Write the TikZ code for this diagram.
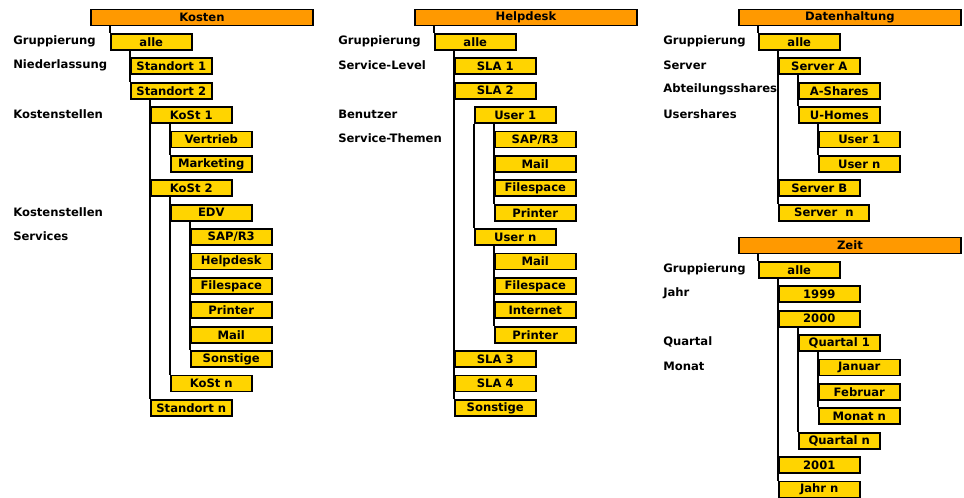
\documentclass[tikz,border=0pt]{standalone}
\usepackage{fontspec}
\setmainfont{DejaVu Sans}
\definecolor{cellfill}{HTML}{FFD400}
\definecolor{headfill}{HTML}{FF9900}
\tikzset{
  txt/.style={font=\fontsize{8.7}{10}\selectfont\bfseries},
  cell/.style={txt, draw=black, fill=cellfill, line width=1.4pt, anchor=north west,
    minimum width=60.5pt, minimum height=12pt, inner sep=0pt},
  widecell/.style={cell, minimum width=67.5pt},
  headcell/.style={cell, fill=headfill, minimum width=166.5pt},
  lbl/.style={txt, anchor=west, inner sep=0pt},
  link/.style={draw=black, line width=1.3pt}
}
% top edge of row #1 in the upper trees and in the time tree
\newcommand\ra[1]{33+24.4*#1}
\newcommand\rz[1]{261+24.4*#1}
\begin{document}
\begin{tikzpicture}[x=0.75pt,y=-0.75pt]
\useasboundingbox[fill=white] (0,0) rectangle (964,497);

% ---------------- Kosten ----------------
\node[headcell] (kh) at (90,{\ra{-1}}) {Kosten};
\node[cell] (kall) at (110,{\ra{0}}) {alle};
\node[cell] (kst1) at (130,{\ra{1}}) {Standort 1};
\node[cell] (kst2) at (130,{\ra{2}}) {Standort 2};
\node[cell] (kk1) at (150,{\ra{3}}) {KoSt 1};
\node[cell] (kvt) at (170,{\ra{4}}) {Vertrieb};
\node[cell] (kmk) at (170,{\ra{5}}) {Marketing};
\node[cell] (kk2) at (150,{\ra{6}}) {KoSt 2};
\node[cell] (kedv) at (170,{\ra{7}}) {EDV};
\node[cell] (ksap) at (190,{\ra{8}}) {SAP/R3};
\node[cell] (khd) at (190,{\ra{9}}) {Helpdesk};
\node[cell] (kfs) at (190,{\ra{10}}) {Filespace};
\node[cell] (kpr) at (190,{\ra{11}}) {Printer};
\node[cell] (kml) at (190,{\ra{12}}) {Mail};
\node[cell] (kso) at (190,{\ra{13}}) {Sonstige};
\node[cell] (kkn) at (170,{\ra{14}}) {KoSt n};
\node[cell] (kstn) at (150,{\ra{15}}) {Standort n};

\node[lbl] (kl1) at (13,{\ra{0}+8}) {Gruppierung};
\node[lbl] (kl2) at (13,{\ra{1}+8}) {Niederlassung};
\node[lbl] (kl3) at (13,{\ra{3}+8}) {Kostenstellen};
\node[lbl] (kl4) at (13,{\ra{7}+8}) {Kostenstellen};
\node[lbl] (kl5) at (13,{\ra{8}+8}) {Services};

\draw[link] (kh.south -| kall.west) -- (kall.north west);
\draw[link] (kall.south -| kst1.west) -- (kst2.north west);
\draw[link] (kst2.south -| kk1.west) -- (kstn.north west);
\draw[link] (kk1.south -| kvt.west) -- (kmk.north west);
\draw[link] (kk2.south -| kedv.west) -- (kkn.north west);
\draw[link] (kedv.south -| ksap.west) -- (kso.north west);

% ---------------- Helpdesk ----------------
\node[headcell] (hh) at (414,{\ra{-1}}) {Helpdesk};
\node[cell] (hall) at (434,{\ra{0}}) {alle};
\node[cell] (hs1) at (454,{\ra{1}}) {SLA 1};
\node[cell] (hs2) at (454,{\ra{2}}) {SLA 2};
\node[cell] (hu1) at (474,{\ra{3}}) {User 1};
\node[cell] (hsap) at (494,{\ra{4}}) {SAP/R3};
\node[cell] (hml1) at (494,{\ra{5}}) {Mail};
\node[cell] (hfs1) at (494,{\ra{6}}) {Filespace};
\node[cell] (hpr1) at (494,{\ra{7}}) {Printer};
\node[cell] (hun) at (474,{\ra{8}}) {User n};
\node[cell] (hml2) at (494,{\ra{9}}) {Mail};
\node[cell] (hfs2) at (494,{\ra{10}}) {Filespace};
\node[cell] (hin) at (494,{\ra{11}}) {Internet};
\node[cell] (hpr2) at (494,{\ra{12}}) {Printer};
\node[cell] (hs3) at (454,{\ra{13}}) {SLA 3};
\node[cell] (hs4) at (454,{\ra{14}}) {SLA 4};
\node[cell] (hso) at (454,{\ra{15}}) {Sonstige};

\node[lbl] (hl1) at (338,{\ra{0}+8}) {Gruppierung};
\node[lbl] (hl2) at (338,{\ra{1}+8}) {Service-Level};
\node[lbl] (hl3) at (338,{\ra{3}+8}) {Benutzer};
\node[lbl] (hl4) at (338,{\ra{4}+8}) {Service-Themen};

\draw[link] (hh.south -| hall.west) -- (hall.north west);
\draw[link] (hall.south -| hs1.west) -- (hso.north west);
\draw[link] (hu1.south west) -- (hun.north west);
\draw[link] (hu1.south -| hsap.west) -- (hpr1.north west);
\draw[link] (hun.south -| hml2.west) -- (hpr2.north west);

% ---------------- Datenhaltung ----------------
\node[headcell] (dh) at (738,{\ra{-1}}) {Datenhaltung};
\node[cell] (dall) at (758,{\ra{0}}) {alle};
\node[cell] (dsa) at (778,{\ra{1}}) {Server A};
\node[cell] (das) at (798,{\ra{2}}) {A-Shares};
\node[cell] (duh) at (798,{\ra{3}}) {U-Homes};
\node[cell] (du1) at (818,{\ra{4}}) {User 1};
\node[cell] (dun) at (818,{\ra{5}}) {User n};
\node[cell] (dsb) at (778,{\ra{6}}) {Server B};
\node[widecell] (dsn) at (778,{\ra{7}}) {Server\hspace{0.7em}n};

\node[lbl] (dl1) at (663,{\ra{0}+8}) {Gruppierung};
\node[lbl] (dl2) at (663,{\ra{1}+8}) {Server};
\node[lbl] (dl3) at (663,{\ra{2}+8}) {Abteilungsshares};
\node[lbl] (dl4) at (663,{\ra{3}+8}) {Usershares};

\draw[link] (dh.south -| dall.west) -- (dall.north west);
\draw[link] (dall.south -| dsa.west) -- (dsn.north west);
\draw[link] (dsa.south -| das.west) -- (duh.north west);
\draw[link] (duh.south -| du1.west) -- (dun.north west);

% ---------------- Zeit ----------------
\node[headcell] (zh) at (738,{\rz{-1}}) {Zeit};
\node[cell] (zall) at (758,{\rz{0}}) {alle};
\node[cell] (z99) at (778,{\rz{1}}) {1999};
\node[cell] (z00) at (778,{\rz{2}}) {2000};
\node[cell] (zq1) at (798,{\rz{3}}) {Quartal 1};
\node[cell] (zjan) at (818,{\rz{4}}) {Januar};
\node[cell] (zfeb) at (818,{\rz{5}}) {Februar};
\node[cell] (zmn) at (818,{\rz{6}}) {Monat n};
\node[cell] (zqn) at (798,{\rz{7}}) {Quartal n};
\node[cell] (z01) at (778,{\rz{8}}) {2001};
\node[cell] (zjn) at (778,{\rz{9}}) {Jahr n};

\node[lbl] (zl1) at (663,{\rz{0}+8}) {Gruppierung};
\node[lbl] (zl2) at (663,{\rz{1}+8}) {Jahr};
\node[lbl] (zl3) at (663,{\rz{3}+8}) {Quartal};
\node[lbl] (zl4) at (663,{\rz{4}+8}) {Monat};

\draw[link] (zh.south -| zall.west) -- (zall.north west);
\draw[link] (zall.south -| z99.west) -- (zjn.north west);
\draw[link] (z00.south -| zq1.west) -- (zqn.north west);
\draw[link] (zq1.south -| zjan.west) -- (zmn.north west);
\end{tikzpicture}
\end{document}
